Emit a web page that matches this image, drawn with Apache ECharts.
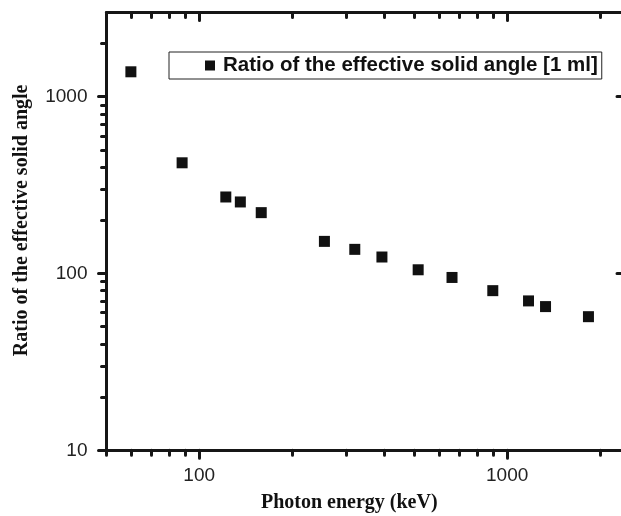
<!DOCTYPE html>
<html>
<head>
<meta charset="utf-8">
<script src="https://cdn.jsdelivr.net/npm/echarts@6/dist/echarts.min.js"></script>
<style>
  html, body { margin: 0; padding: 0; background: #fff; }
  #chart { width: 621px; height: 516px; }
</style>
</head>
<body>
<div id="chart"></div>
<script>
  // photon energy (keV) and measured ratio
  var energy = [60, 88, 122, 136, 159, 255, 320, 392, 514, 662, 898, 1173, 1332, 1836];
  var ratio = [1384, 423, 271, 254, 221, 152, 137, 124, 105, 95, 80, 70, 65, 57];
  var seriesName = 'Ratio of the effective solid angle [1 ml]';

  // tick positions
  var xMajor = [100, 1000];
  var xMinor = [50, 60, 70, 80, 90, 200, 300, 400, 500, 600, 700, 800, 900, 2000];
  var yMajor = [10, 100, 1000];
  var yMinor = [20, 30, 40, 50, 60, 70, 80, 90, 200, 300, 400, 500, 600, 700, 800, 900, 2000];

  var X_MIN = 50, X_MAX = 2431, Y_MIN = 10, Y_MAX = 3000;
  var ink = '#161616';

  var titleFont = {
    fontFamily: '"Liberation Serif", "DejaVu Serif", serif',
    fontWeight: 'bold',
    fontSize: 20,
    color: '#111'
  };

  // one axis = one set of ticks (major or minor) on one side of the grid
  function makeAxis(pos, ticks, len, inside, withLine, withLabels) {
    var isX = pos === 'bottom' || pos === 'top';
    return {
      type: 'log',
      logBase: 10,
      position: pos,
      min: isX ? X_MIN : Y_MIN,
      max: isX ? X_MAX : Y_MAX,
      axisLine: { show: withLine, onZero: false, lineStyle: { color: ink, width: 3 } },
      axisTick: {
        show: true,
        inside: inside,
        length: len,
        customValues: ticks,
        lineStyle: { color: ink, width: 3, cap: 'round' }
      },
      minorTick: { show: false },
      axisLabel: withLabels ? {
        show: true,
        customValues: ticks,
        formatter: function (v) { return String(Math.round(v)); },
        fontFamily: '"Liberation Sans", Arial, sans-serif',
        fontSize: 19,
        color: '#222',
        margin: isX ? 16 : 19
      } : { show: false },
      splitLine: { show: false },
      axisPointer: { show: false }
    };
  }

  var xBottom = makeAxis('bottom', xMajor, 8, false, true, true);
  xBottom.name = 'Photon energy (keV)';
  xBottom.nameLocation = 'middle';
  xBottom.nameGap = 43;
  xBottom.nameTextStyle = Object.assign({ padding: [0, 34, 0, 0] }, titleFont);

  var yLeft = makeAxis('left', yMajor, 8, false, true, true);
  yLeft.name = 'Ratio of the effective solid angle';
  yLeft.nameLocation = 'middle';
  yLeft.nameGap = 75;
  yLeft.nameTextStyle = Object.assign({ padding: [0, 0, 0, 22] }, titleFont);

  var option = {
    animation: false,
    backgroundColor: '#fff',
    grid: {
      left: 106.5,
      right: -5,
      top: 12.4,
      bottom: 65.7,
      containLabel: false,
      outerBoundsMode: 'none'
    },
    legend: {
      left: 169,
      top: 52,
      data: [{ name: seriesName, icon: 'rect' }],
      itemWidth: 10,
      itemHeight: 10,
      borderColor: '#222',
      borderWidth: 1,
      padding: [3, 4, 3, 36],
      selectedMode: false,
      textStyle: {
        fontFamily: '"Liberation Sans", Arial, sans-serif',
        fontWeight: 'bold',
        fontSize: 20.5,
        color: '#111',
        padding: [0, 0, 0, 3]
      }
    },
    xAxis: [
      xBottom,
      makeAxis('bottom', xMinor, 5, false, false, false),
      makeAxis('top', xMajor, 8, true, true, false),
      makeAxis('top', xMinor, 5, true, false, false)
    ],
    yAxis: [
      yLeft,
      makeAxis('left', yMinor, 5, false, false, false),
      makeAxis('right', yMajor, 9, true, true, false)
    ],
    series: [
      {
        name: seriesName,
        type: 'scatter',
        xAxisIndex: 0,
        yAxisIndex: 0,
        symbol: 'rect',
        symbolSize: 11,
        itemStyle: { color: '#111', opacity: 1 },
        data: energy.map(function (e, i) { return [e, ratio[i]]; })
      }
    ]
  };

  var myChart = echarts.init(document.getElementById('chart'));
  myChart.setOption(option);
</script>
</body>
</html>
